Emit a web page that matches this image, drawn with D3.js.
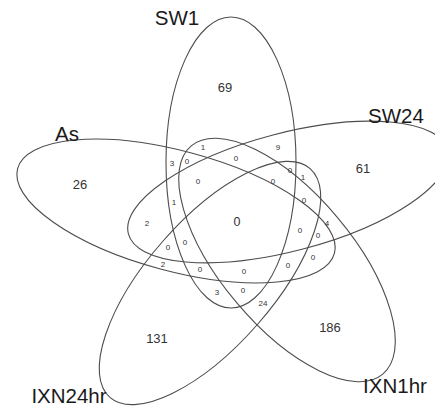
<!DOCTYPE html>
<html>
<head>
<meta charset="utf-8">
<script src="https://cdn.jsdelivr.net/npm/d3@7"></script>
<style>
  html, body { margin: 0; padding: 0; background: #fff; }
  svg { display: block; }
  text { font-family: "Liberation Sans", Arial, Helvetica, sans-serif; }
</style>
</head>
<body>
<div id="chart"></div>
<script>
// ---------- data ----------
const setNames = ["SW1", "SW24", "As", "IXN24hr", "IXN1hr"];
// counts of the 31 regions (5 single-set regions first, then the core, then the inner cells)
const regionCounts = [69, 61, 26, 131, 186, 0,
  1, 9, 3, 0, 0, 0, 1, 0, 0, 1, 0, 2, 0, 0, 4,
  0, 0, 0, 2, 0, 0, 0, 3, 0, 24];

// ---------- layout (chart units) ----------
const W = 435, H = 409;
const x = d3.scaleLinear().domain([0, 435]).range([0, W]);
const y = d3.scaleLinear().domain([0, 409]).range([0, H]);

// ellipse geometry per set: centre, semi-axes, rotation of the major axis
const ellipseLayout = [
  { cx: 231, cy: 162.5, a: 145.5, b: 65, rot: 90 },    // SW1
  { cx: 288, cy: 192, a: 165, b: 59, rot: -14.7 },     // SW24
  { cx: 176, cy: 211, a: 164, b: 60, rot: 15 },        // As
  { cx: 210, cy: 283, a: 152, b: 63, rot: -48.8 },     // IXN24hr
  { cx: 287, cy: 260, a: 149, b: 66, rot: 50 }         // IXN1hr
];
const setLabelLayout = [
  { x: 177, y: 25 }, { x: 396, y: 123 }, { x: 67, y: 141 },
  { x: 69, y: 403 }, { x: 395, y: 393 }
];
const countLayout = [
  [225, 87, "o"], [363, 168, "o"], [80, 184, "o"], [157, 338, "o"], [330, 327, "o"], [237, 222, "c"],
  [203, 147, "i"], [278, 147, "i"], [172, 163, "i"], [187, 161, "i"], [236, 158, "i"], [290, 170, "i"],
  [303, 177, "i"], [198, 181, "i"], [273, 181, "i"], [174, 202, "i"], [304, 200, "i"], [147, 223, "i"],
  [300, 230, "i"], [318, 235, "i"], [327, 223, "i"],
  [168, 247, "i"], [185, 242, "i"], [313, 257, "i"], [163, 264, "i"], [200, 269, "i"], [244, 271, "i"],
  [288, 265, "i"], [217, 292, "i"], [243, 290, "i"], [263, 303, "i"]
];
const fontSize = { o: 13, c: 12.5, i: 8 };

// ---------- draw ----------
const svg = d3.select("#chart").append("svg")
  .attr("width", W).attr("height", H);

svg.append("g").selectAll("ellipse")
  .data(ellipseLayout)
  .join("ellipse")
  .attr("transform", d => `translate(${x(d.cx)},${y(d.cy)}) rotate(${d.rot})`)
  .attr("rx", d => x(d.a) - x(0))
  .attr("ry", d => y(d.b) - y(0))
  .attr("fill", "none")
  .attr("stroke", "#4d4d4d")
  .attr("stroke-width", 1.1);

svg.append("g").selectAll("text")
  .data(setNames)
  .join("text")
  .attr("x", (d, i) => x(setLabelLayout[i].x))
  .attr("y", (d, i) => y(setLabelLayout[i].y))
  .attr("text-anchor", "middle")
  .attr("font-size", 20.5)
  .attr("fill", "#1a1a1a")
  .text(d => d);

svg.append("g").selectAll("text")
  .data(regionCounts)
  .join("text")
  .attr("x", (d, i) => x(countLayout[i][0]))
  .attr("y", (d, i) => y(countLayout[i][1]))
  .attr("text-anchor", "middle")
  .attr("dominant-baseline", "central")
  .attr("font-size", (d, i) => fontSize[countLayout[i][2]])
  .attr("fill", "#333")
  .text(d => d);
</script>
</body>
</html>
